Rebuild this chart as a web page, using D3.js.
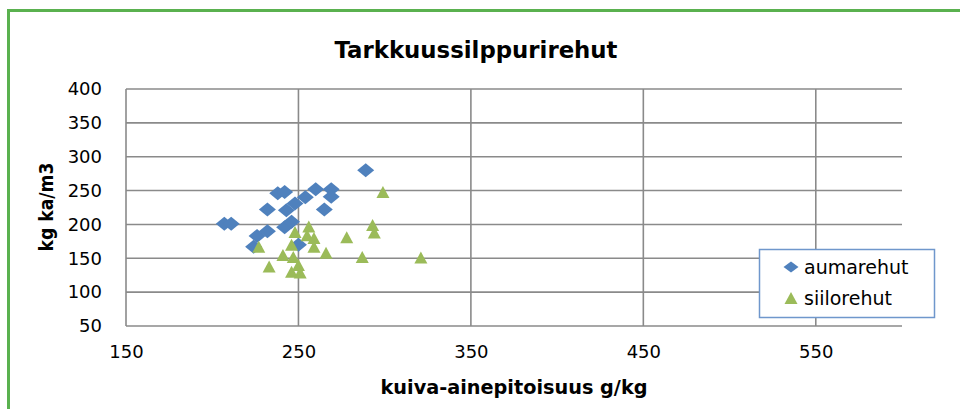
<!DOCTYPE html>
<html>
<head>
<meta charset="utf-8">
<script src="https://cdn.jsdelivr.net/npm/d3@7/dist/d3.min.js"></script>
<style>
  html, body { margin: 0; padding: 0; background: #ffffff; }
  svg { display: block; }
  text { font-family: "DejaVu Sans", sans-serif; fill: #000; }
</style>
</head>
<body>
<svg id="chart" width="960" height="409"></svg>
<script>
// ---- data ----
const chartTitle = "Tarkkuussilppurirehut";
const xTitle = "kuiva-ainepitoisuus g/kg";
const yTitle = "kg ka/m3";
const seriesNames = ["aumarehut", "siilorehut"];
const xTicks = [150, 250, 350, 450, 550];
const yTicks = [50, 100, 150, 200, 250, 300, 350, 400];

const aumX = [207, 211, 224, 226, 232, 232, 238, 242, 242, 246, 243, 248, 250, 254, 260, 265, 269, 269, 289];
const aumY = [201, 201, 167, 183, 190, 222, 246, 248, 196, 204, 221, 231, 170, 240, 252, 222, 252, 241, 280];

const siiX = [227, 233, 241, 247, 248, 246, 250, 246, 251, 256, 255, 259, 259, 266, 278, 287, 293, 294, 299, 321];
const siiY = [167, 138, 155, 152, 189, 170, 140, 130, 129, 197, 184, 180, 167, 158, 181, 152, 199, 188, 248, 151];

(function () {
// ---- layout ----
const svg = d3.select("#chart");
const pL = 126, pR = 902, pT = 89, pB = 326;
const x = d3.scaleLinear().domain([150, 600]).range([pL, pR]);
const y = d3.scaleLinear().domain([50, 400]).range([pB, pT]);

const blue = "#4F81BD", green = "#9BBB59", grid = "#8a8a8a";

// outer green frame (extends beyond right/bottom of view)
svg.append("rect")
  .attr("x", 8.5).attr("y", 10.5)
  .attr("width", 1000).attr("height", 500)
  .attr("fill", "none").attr("stroke", "#5AB14F").attr("stroke-width", 3);

// horizontal gridlines
svg.append("g").selectAll("line").data(yTicks.filter(d => d > 50)).join("line")
  .attr("x1", pL).attr("x2", pR)
  .attr("y1", d => y(d)).attr("y2", d => y(d))
  .attr("stroke", grid).attr("stroke-width", 1.6);

// vertical gridlines
svg.append("g").selectAll("line").data(xTicks.filter(d => d > 150)).join("line")
  .attr("x1", d => x(d)).attr("x2", d => x(d))
  .attr("y1", pT).attr("y2", pB)
  .attr("stroke", grid).attr("stroke-width", 1.6);

// axes
const yAxis = svg.append("g").attr("transform", `translate(${pL},0)`)
  .call(d3.axisLeft(y).tickValues(yTicks).tickSize(0).tickPadding(24).tickFormat(d3.format("d")));
const xAxis = svg.append("g").attr("transform", `translate(0,${pB})`)
  .call(d3.axisBottom(x).tickValues(xTicks).tickSize(0).tickPadding(19).tickFormat(d3.format("d")));
[yAxis, xAxis].forEach(g => {
  g.select(".domain").attr("stroke", grid).attr("stroke-width", 1.6);
  g.selectAll("text").attr("font-size", 18).attr("font-family", "DejaVu Sans, sans-serif").attr("fill", "#000");
});
xAxis.select(".domain").attr("d", `M${pL},0H${pR}`);
yAxis.select(".domain").attr("d", `M0,${pB}V${pT}`);

// markers
function diamond(w, h) {
  return `M0,${-h/2}L${w/2},0L0,${h/2}L${-w/2},0Z`;
}
function triangle(w, h) {
  return `M0,${-h/2}L${w/2},${h/2}L${-w/2},${h/2}Z`;
}

const aum = aumX.map((v, i) => ({x: v, y: aumY[i]}));
const sii = siiX.map((v, i) => ({x: v, y: siiY[i]}));

svg.append("g").selectAll("path").data(aum).join("path")
  .attr("transform", d => `translate(${x(d.x)},${y(d.y)})`)
  .attr("d", diamond(17, 14)).attr("fill", blue);

svg.append("g").selectAll("path").data(sii).join("path")
  .attr("transform", d => `translate(${x(d.x)},${y(d.y)})`)
  .attr("d", triangle(13, 12)).attr("fill", green);

// titles
svg.append("text").attr("x", 476).attr("y", 58).attr("text-anchor", "middle")
  .attr("font-size", 23).attr("font-weight", "bold")
  .attr("textLength", 283).attr("lengthAdjust", "spacingAndGlyphs")
  .text(chartTitle);

svg.append("text").attr("x", 514).attr("y", 394).attr("text-anchor", "middle")
  .attr("font-size", 20).attr("font-weight", "bold")
  .attr("textLength", 267).attr("lengthAdjust", "spacingAndGlyphs")
  .text(xTitle);

svg.append("text")
  .attr("transform", "translate(53,207) rotate(-90)")
  .attr("text-anchor", "middle")
  .attr("font-size", 20).attr("font-weight", "bold")
  .attr("textLength", 89).attr("lengthAdjust", "spacingAndGlyphs")
  .text(yTitle);

// legend
const lg = svg.append("g");
lg.append("rect").attr("x", 759.5).attr("y", 249.5).attr("width", 175).attr("height", 68)
  .attr("fill", "#fff").attr("stroke", "#6F97CC").attr("stroke-width", 1.5);
const legendItems = [
  {name: seriesNames[0], shape: diamond(15, 11), color: blue, cy: 267},
  {name: seriesNames[1], shape: triangle(13, 12), color: green, cy: 298}
];
legendItems.forEach(it => {
  lg.append("path").attr("transform", `translate(791,${it.cy})`).attr("d", it.shape).attr("fill", it.color);
  lg.append("text").attr("x", 804).attr("y", it.cy).attr("dy", "0.35em")
    .attr("font-size", 19).text(it.name);
});
})();
</script>
</body>
</html>
